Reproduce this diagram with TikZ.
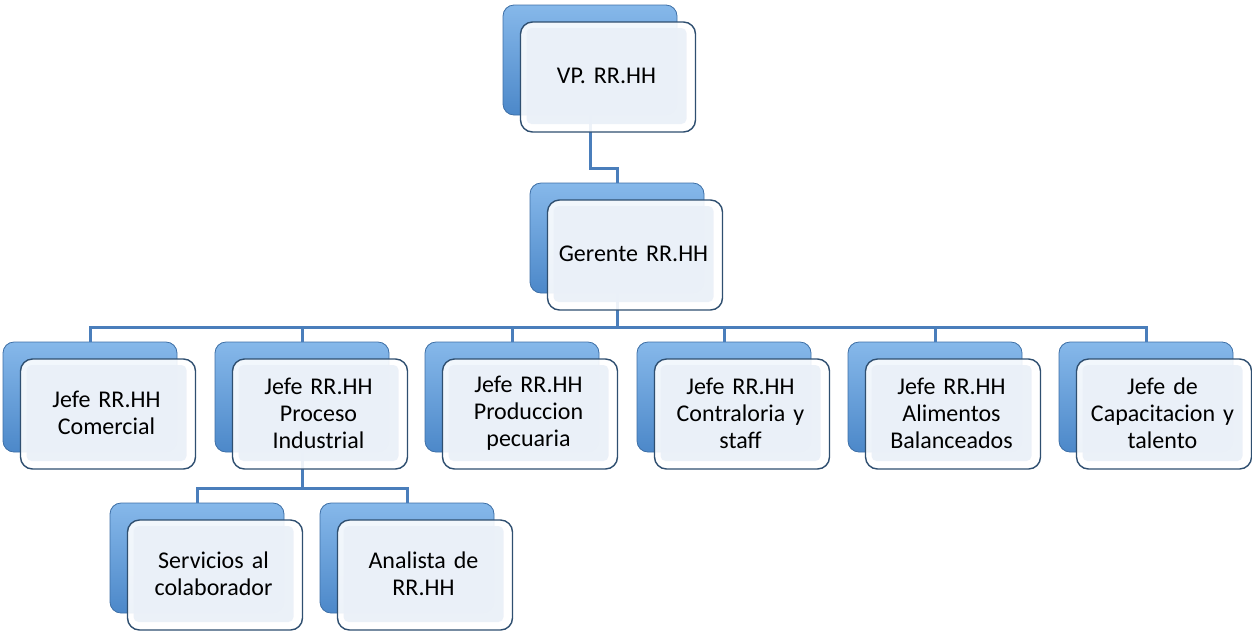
\documentclass[tikz,border=0pt]{standalone}
\usepackage{fontspec}
\setmainfont{Carlito}
\usepackage{tikz}

\definecolor{linkblue}{HTML}{4A7EBB}
\definecolor{backtop}{HTML}{86B8EA}
\definecolor{backbot}{HTML}{4C88C9}
\definecolor{backline}{HTML}{3D6FA6}
\definecolor{facefill}{HTML}{EAF0F8}
\definecolor{frontline}{HTML}{2F4F70}

% name / back box centre x / y / text
\def\boxlist{vp/590/60/{VP. RR.HH},
    ger/617/238/{Gerente RR.HH},
    com/90/397/{Jefe RR.HH\\Comercial},
    pro/302/397/{Jefe RR.HH\\Proceso\\Industrial},
    pec/512/397/{Jefe RR.HH\\Produccion\\pecuaria},
    con/724/397/{Jefe RR.HH\\Contraloria y\\staff},
    ali/935/397/{Jefe RR.HH\\Alimentos\\Balanceados},
    cap/1146/397/{Jefe de\\Capacitacion y\\talento},
    ser/197/558/{Servicios al\\colaborador},
    ana/407/558/{Analista de\\RR.HH}}

\begin{document}
\begin{tikzpicture}[
            x=1pt, y=-1pt,
            back box/.style={rounded corners=11pt, draw=backline, line width=0.8pt,
                top color=backtop, bottom color=backbot,
                minimum width=174pt, minimum height=110pt, inner sep=0pt},
            shell box/.style={rounded corners=12pt, draw=frontline, line width=1.4pt,
                fill=white, fill opacity=0.9,
                minimum width=175pt, minimum height=110pt, inner sep=0pt},
            face box/.style={rounded corners=5pt, fill=facefill, fill opacity=0.9,
                text opacity=1, minimum width=160pt, minimum height=96pt,
                inner sep=0pt, align=center, text width=158pt,
                font=\fontsize{24}{27}\selectfont},
            link/.style={draw=linkblue, line width=3pt},
            ]
            \useasboundingbox (0,0) rectangle (1252,633);

            % back boxes
            \foreach \n/\x/\y/\t in \boxlist
                \node[back box] (\n-b) at (\x,\y) {};

            % connectors
            \coordinate (vpJ)  at (590,168);
            \coordinate (gerJ) at (617,327);
            \coordinate (proJ) at (302,488);
            \draw[link] (vp-b.center) -- (vpJ) -| (ger-b.north);
            \draw[link] (ger-b.center) -- (gerJ);
            \foreach \b in {com,pro,pec,con,ali,cap}
                \draw[link] (gerJ) -| (\b-b.north);
            \draw[link] (pro-b.center) -- (proJ);
            \draw[link] (proJ) -| (ser-b.north);
            \draw[link] (proJ) -| (ana-b.north);

            % front boxes
            \foreach \n/\x/\y/\t in \boxlist {
                \node[shell box] (\n) at (\x+18,\y+17) {};
                \node[face box] (\n-f) at (\x+16.5,\y+16) {\t};
            }
        \end{tikzpicture}
\end{document}
